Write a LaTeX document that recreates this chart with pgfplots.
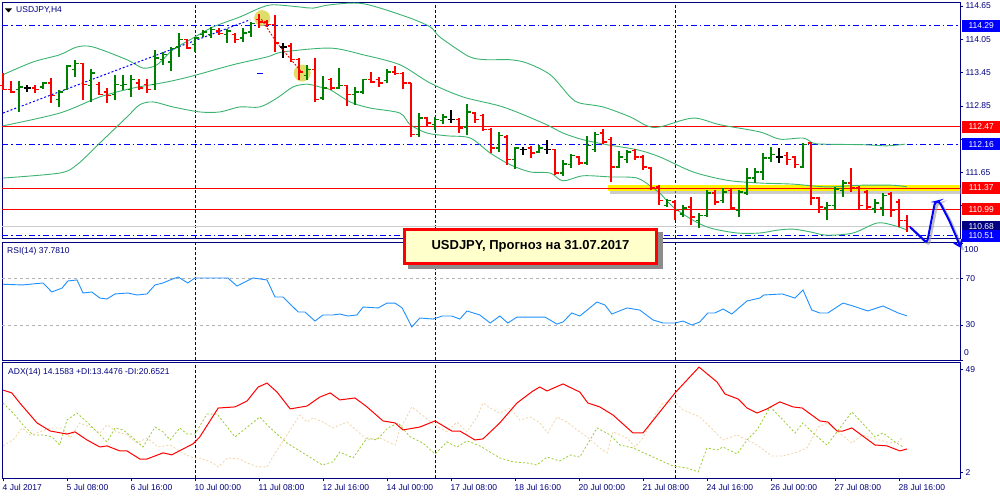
\documentclass[border=0pt]{standalone}
\usepackage{fontspec}
\setmainfont{Liberation Sans}
\usepackage{pgfplots}
\usepackage{pgfplotstable}
\pgfplotsset{compat=1.18}
\usetikzlibrary{arrows.meta}

\definecolor{navy}{HTML}{000080}
\definecolor{upG}{HTML}{008000}
\definecolor{dnR}{HTML}{FF0000}
\definecolor{bbG}{HTML}{3CB371}
\definecolor{rsiB}{HTML}{1E90FF}
\definecolor{diP}{HTML}{9ACD32}
\definecolor{diM}{HTML}{F2D3A6}
\definecolor{lnB}{HTML}{0000FF}
\definecolor{boxY}{HTML}{FFFFCC}
\definecolor{circY}{HTML}{DCD850}

\pgfdeclareplotmark{openL}{\pgfpathmoveto{\pgfqpoint{-3.5pt}{0pt}}\pgfpathlineto{\pgfqpoint{0pt}{0pt}}\pgfusepathqstroke}
\pgfdeclareplotmark{closeR}{\pgfpathmoveto{\pgfqpoint{0pt}{0pt}}\pgfpathlineto{\pgfqpoint{3.5pt}{0pt}}\pgfusepathqstroke}
\pgfdeclareplotmark{nothing}{}

\pgfplotstableread{
i O H L C
0 113.21 113.44 113.14 113.15
1 113.14 113.30 113.08 113.10
2 113.14 113.30 112.74 113.19
3 113.17 113.23 113.10 113.17
4 113.17 113.23 113.08 113.15
5 113.19 113.28 113.15 113.26
6 113.26 113.35 112.90 113.03
7 112.96 113.14 112.83 113.10
8 113.15 113.59 113.14 113.57
9 113.50 113.68 113.37 113.61
10 113.61 113.62 112.96 113.23
11 113.21 113.52 112.92 113.44
12 113.24 113.28 113.05 113.06
13 113.10 113.17 112.90 113.03
14 113.06 113.41 112.96 113.24
15 113.21 113.41 113.14 113.24
16 113.15 113.41 113.01 113.32
17 113.26 113.34 113.14 113.17
18 113.24 113.34 113.08 113.15
19 113.23 113.86 113.14 113.71
20 113.68 113.82 113.59 113.77
21 113.64 113.91 113.48 113.88
22 113.91 114.16 113.73 114.04
23 114.04 114.06 113.88 113.89
24 113.95 114.09 113.82 114.07
25 114.13 114.22 114.09 114.18
26 114.13 114.27 114.07 114.22
27 114.20 114.25 114.13 114.15
28 114.13 114.24 113.98 114.20
29 114.13 114.16 113.98 114.04
30 114.07 114.25 114.00 114.16
31 114.18 114.36 114.09 114.33
32 114.40 114.51 114.25 114.36
33 114.36 114.40 114.27 114.31
34 114.31 114.49 113.82 113.98
35 113.91 113.98 113.71 113.91
36 113.93 113.98 113.64 113.68
37 113.68 113.71 113.32 113.46
38 113.39 113.59 113.32 113.50
39 113.50 113.71 112.92 112.97
40 112.99 113.39 112.96 113.17
41 113.32 113.35 113.14 113.17
42 113.17 113.53 113.15 113.21
43 113.21 113.23 112.85 113.05
44 113.05 113.19 112.87 113.10
45 113.10 113.34 113.06 113.32
46 113.32 113.46 113.26 113.28
47 113.32 113.37 113.19 113.26
48 113.30 113.52 113.26 113.46
49 113.46 113.57 113.41 113.43
50 113.43 113.46 113.15 113.26
51 113.26 113.26 112.29 112.33
52 112.34 112.72 112.29 112.63
53 112.63 112.65 112.49 112.54
54 112.51 112.65 112.42 112.60
55 112.58 112.70 112.52 112.65
56 112.61 112.78 112.54 112.61
57 112.61 112.63 112.36 112.45
58 112.47 112.88 112.33 112.74
59 112.72 112.74 112.54 112.60
60 112.67 112.70 112.40 112.42
61 112.42 112.45 112.00 112.09
62 112.09 112.38 112.02 112.31
63 112.29 112.33 111.79 111.88
64 111.88 112.11 111.71 112.09
65 112.06 112.11 111.97 112.06
66 112.09 112.13 111.91 112.00
67 112.02 112.15 112.00 112.09
68 112.06 112.24 111.98 112.06
69 112.06 112.07 111.60 111.64
70 111.64 111.88 111.59 111.80
71 111.79 111.98 111.73 111.95
72 111.93 111.95 111.79 111.82
73 111.82 112.30 111.79 112.13
74 112.06 112.38 112.02 112.33
75 112.36 112.43 112.16 112.20
76 112.24 112.29 111.48 111.75
77 111.75 112.04 111.73 111.93
78 111.88 112.06 111.82 112.02
79 112.04 112.07 111.88 111.93
80 111.93 111.97 111.69 111.75
81 111.73 111.75 111.33 111.37
82 111.39 111.42 111.06 111.15
83 111.06 111.17 111.03 111.14
84 111.12 111.15 110.79 110.96
85 110.90 111.06 110.85 111.01
86 111.03 111.21 110.70 110.85
87 110.79 110.92 110.65 110.88
88 110.88 111.33 110.85 111.28
89 111.28 111.33 111.06 111.12
90 111.14 111.37 111.10 111.30
91 111.33 111.37 110.97 111.01
92 110.97 111.33 110.85 111.30
93 111.28 111.73 111.24 111.55
94 111.55 111.73 111.46 111.66
95 111.66 112.00 111.51 111.91
96 111.91 112.11 111.84 111.97
97 111.93 112.09 111.82 111.93
98 111.95 112.02 111.79 111.88
99 111.93 111.95 111.73 111.79
100 111.75 112.18 111.73 112.16
101 112.18 112.20 111.06 111.19
102 111.19 111.21 110.92 111.03
103 111.01 111.12 110.79 111.06
104 111.06 111.39 110.97 111.35
105 111.33 111.51 111.21 111.46
106 111.46 111.73 111.30 111.37
107 111.37 111.41 110.97 111.06
108 111.30 111.33 110.97 111.03
109 110.99 111.17 110.92 111.10
110 111.01 111.28 110.87 111.24
111 111.26 111.30 110.85 110.97
112 111.12 111.17 110.67 110.79
113 110.79 110.88 110.58 110.68
}\ohlc

\pgfplotsset{
  mt/.style={
    scale only axis, width=958pt, xmin=-0.125, xmax=119.625,
    anchor=north west, clip mode=individual,
    axis line style={navy, line width=0.8pt},
    tick style={navy, line width=0.6pt},
    ytick pos=right, yticklabel pos=right, tick align=outside,
    major tick length=3pt,
    tick label style={font=\fontsize{8.5}{10}\selectfont, text=navy},
    yticklabel style={anchor=west, xshift=-1pt},
  },
  hl/.style={only marks, mark=nothing, forget plot},
}
\tikzset{
  sep/.style={navy, line width=0.8pt, dash pattern=on 3pt off 2pt},
  plab/.style={anchor=west, minimum width=38pt, minimum height=11.5pt, inner sep=0pt,
    font=\fontsize{8.5}{10}\selectfont, text=white, xshift=2pt},
}

\begin{document}
\begin{tikzpicture}
\useasboundingbox (0,0) rectangle (1000pt,500pt);
\fill[white] (0,0) rectangle (1000pt,500pt);

% ---------------- main price panel ----------------
\begin{axis}[mt, at={(2pt,498pt)}, height=236pt, ymin=110.47, ymax=114.72,
  xtick=\empty,
  ytick={111.05,111.65,112.25,112.85,113.45,114.05,114.65},
  yticklabels={,111.65,,112.85,113.45,114.05,114.65}]

\draw[sep] (axis cs:24,110.47) -- (axis cs:24,114.72);
\draw[sep] (axis cs:54,110.47) -- (axis cs:54,114.72);
\draw[sep] (axis cs:84,110.47) -- (axis cs:84,114.72);

% horizontal levels
\draw[lnB, line width=1pt, dash pattern=on 6pt off 3pt on 1.5pt off 3pt] (axis cs:-0.125,114.29) -- (axis cs:119.625,114.29);
\draw[dnR, line width=1pt] (axis cs:-0.125,112.47) -- (axis cs:119.625,112.47);
\draw[lnB, line width=1pt, dash pattern=on 6pt off 3pt on 1.5pt off 3pt] (axis cs:-0.125,112.16) -- (axis cs:119.625,112.16);
\draw[black!40, line width=6pt, opacity=0.5] ([xshift=2pt,yshift=-3pt]axis cs:75.6,111.37) -- ([xshift=2pt,yshift=-3pt]axis cs:119.6,111.37);
\draw[yellow, line width=6.5pt] (axis cs:75.6,111.37) -- (axis cs:119.6,111.37);
\draw[dnR, line width=1pt] (axis cs:-0.125,111.37) -- (axis cs:119.625,111.37);
\draw[dnR, line width=1pt] (axis cs:-0.125,110.99) -- (axis cs:119.625,110.99);
\draw[black!20, line width=0.8pt] (axis cs:-0.125,110.68) -- (axis cs:119.625,110.68);
\draw[lnB, line width=1pt, dash pattern=on 6pt off 3pt on 1.5pt off 3pt] (axis cs:-0.125,110.51) -- (axis cs:119.625,110.51);

% Bollinger bands
\addplot[bbG, line width=0.9pt, smooth] coordinates {(0,113.41) (3.75,113.64) (7.1,113.77) (9.25,113.91) (11.25,113.91) (15.5,113.68) (17.5,113.53) (19.25,113.59) (21.25,113.86) (23.75,114.07) (26.25,114.27) (29.6,114.45) (32.1,114.61) (33.75,114.67) (37.1,114.63) (38.75,114.61) (40.9,114.67) (45,114.69) (50.5,114.45) (53.4,114.27) (54.6,114.09) (57.5,113.80) (58.75,113.71) (60.5,113.68) (63.4,113.68) (65.5,113.62) (68.4,113.41) (70.9,113.01) (72.1,112.90) (75,112.83) (78.4,112.65) (80.5,112.49) (82.1,112.47) (86.25,112.63) (89.6,112.51) (94.6,112.38) (97.1,112.25) (100,112.27) (101.25,112.18) (102.5,112.16) (107.5,112.15) (110.5,112.13) (112.75,112.16)};
\addplot[bbG, line width=0.9pt, smooth] coordinates {(0,112.49) (7.1,112.72) (12.1,113.01) (16.25,113.17) (20.5,113.28) (23.75,113.39) (28.75,113.59) (33,113.73) (35,113.82) (40.9,113.89) (45,113.77) (49.6,113.59) (53.4,113.26) (57.5,113.01) (62.5,112.83) (67.5,112.54) (70,112.36) (72.5,112.24) (75.5,112.15) (79.25,112.06) (82.1,111.93) (86.25,111.66) (90.5,111.51) (94.6,111.46) (98.75,111.44) (103,111.39) (107.1,111.42) (111.25,111.42) (113,111.39)};
\addplot[bbG, line width=0.9pt, smooth] coordinates {(0,111.55) (7.1,111.64) (9.25,111.79) (12.1,112.18) (15.5,112.65) (17.1,112.87) (18.75,112.92) (21.25,112.83) (24.6,112.74) (27.1,112.74) (29.6,112.83) (32.1,112.83) (34.25,112.99) (36.25,113.19) (38,113.24) (39.6,113.19) (40.9,113.14) (43.4,112.92) (45.9,112.81) (49.6,112.72) (50.9,112.51) (53,112.36) (55.5,112.31) (58.4,112.27) (60.9,112.00) (63.4,111.79) (65.9,111.66) (68.4,111.64) (70,111.50) (72.5,111.59) (75.9,111.57) (79.25,111.55) (81.25,111.37) (82.1,111.28) (83.75,111.03) (86.25,110.79) (88.4,110.65) (91.75,110.56) (94.6,110.56) (96.75,110.61) (98.75,110.63) (100.9,110.58) (103,110.52) (106.25,110.56) (109.25,110.74) (111.25,110.70) (113.1,110.61)};

% trend line
\addplot[lnB, line width=1pt, dash pattern=on 2pt off 2pt] coordinates {(0,112.72) (30.9,114.40)};

% circles
\fill[circY, opacity=0.85] (axis cs:32.4,114.43) circle[radius=8pt];
\fill[circY, opacity=0.85] (axis cs:37.4,113.44) circle[radius=8.5pt];

% OHLC bars: up
\addplot[hl, restrict expr to domain={\thisrow{C}-\thisrow{O}}{0.001:10},
  error bars/.cd, y dir=plus, y explicit, error mark=none, error bar style={line width=1.3pt, draw=upG}]
  table[x=i, y=L, y error expr=\thisrow{H}-\thisrow{L}] {\ohlc};
\addplot[forget plot, only marks, mark=openL, upG, line width=1.3pt, restrict expr to domain={\thisrow{C}-\thisrow{O}}{0.001:10}] table[x=i, y=O] {\ohlc};
\addplot[forget plot, only marks, mark=closeR, upG, line width=1.3pt, restrict expr to domain={\thisrow{C}-\thisrow{O}}{0.001:10}] table[x=i, y=C] {\ohlc};
% down
\addplot[hl, restrict expr to domain={\thisrow{C}-\thisrow{O}}{-10:-0.001},
  error bars/.cd, y dir=plus, y explicit, error mark=none, error bar style={line width=1.3pt, draw=dnR}]
  table[x=i, y=L, y error expr=\thisrow{H}-\thisrow{L}] {\ohlc};
\addplot[forget plot, only marks, mark=openL, dnR, line width=1.3pt, restrict expr to domain={\thisrow{C}-\thisrow{O}}{-10:-0.001}] table[x=i, y=O] {\ohlc};
\addplot[forget plot, only marks, mark=closeR, dnR, line width=1.3pt, restrict expr to domain={\thisrow{C}-\thisrow{O}}{-10:-0.001}] table[x=i, y=C] {\ohlc};
% doji
\addplot[hl, restrict expr to domain={\thisrow{C}-\thisrow{O}}{-0.0009:0.0009},
  error bars/.cd, y dir=plus, y explicit, error mark=none, error bar style={line width=1.3pt, draw=black}]
  table[x=i, y=L, y error expr=\thisrow{H}-\thisrow{L}] {\ohlc};
\addplot[forget plot, only marks, mark=openL, black, line width=1.3pt, restrict expr to domain={\thisrow{C}-\thisrow{O}}{-0.0009:0.0009}] table[x=i, y=O] {\ohlc};
\addplot[forget plot, only marks, mark=closeR, black, line width=1.3pt, restrict expr to domain={\thisrow{C}-\thisrow{O}}{-0.0009:0.0009}] table[x=i, y=C] {\ohlc};

% red dashed path and small marks
\draw[dnR, line width=0.9pt, dash pattern=on 2pt off 1.5pt] (axis cs:32.3,114.41) -- (axis cs:34.25,113.98) -- (axis cs:37.2,113.48);
\draw[lnB, line width=1pt] (axis cs:31.7,113.44) -- (axis cs:32.5,113.44);

% price labels
\node[plab, fill=lnB] at (axis cs:119.625,114.29) {114.29};
\node[plab, fill=dnR] at (axis cs:119.625,112.47) {112.47};
\node[plab, fill=lnB] at (axis cs:119.625,112.16) {112.16};
\node[plab, fill=dnR] at (axis cs:119.625,111.37) {111.37};
\node[plab, fill=dnR] at (axis cs:119.625,110.99) {110.99};
\node[plab, fill=navy] at (axis cs:119.625,110.68) {110.68};
\node[plab, fill=lnB] at (axis cs:119.625,110.51) {110.51};
\end{axis}

% ---------------- RSI panel ----------------
\begin{axis}[mt, at={(2pt,258pt)}, height=118.5pt, ymin=-0.4, ymax=101.1,
  xtick=\empty, ytick={0,30,70,100}, yticklabels={,30,70,}]
\draw[sep] (axis cs:24,-0.4) -- (axis cs:24,101.1);
\draw[sep] (axis cs:54,-0.4) -- (axis cs:54,101.1);
\draw[sep] (axis cs:84,-0.4) -- (axis cs:84,101.1);
\draw[black!30, line width=0.7pt, dash pattern=on 3pt off 3pt] (axis cs:-0.125,70) -- (axis cs:119.625,70);
\draw[black!30, line width=0.7pt, dash pattern=on 3pt off 3pt] (axis cs:-0.125,30) -- (axis cs:119.625,30);
\addplot[rsiB, line width=0.9pt] coordinates {(0,64.9) (2.4,64.3) (5,66.0) (6.1,58.3) (7.4,61.7) (8.1,67.7) (9.25,68.6) (10,57.4) (11.1,58.3) (12.1,53.1) (13,52.3) (14,56.6) (15.6,57.4) (16.75,55.7) (18,56.6) (19,64.3) (20,66.0) (20.9,68.6) (21.9,71.1) (23.1,66.0) (24,70.3) (26.25,70.3) (28.1,70.3) (29.25,63.4) (31.25,70.3) (33,68.6) (34,54.0) (35,54.0) (36.9,41.1) (37.75,41.1) (39,33.4) (40,38.6) (41.25,38.6) (42.1,39.4) (43.1,37.7) (44.25,38.6) (45,45.4) (46.9,44.6) (48,48.8) (49,48.8) (49.9,44.6) (51.1,28.3) (52.1,36.0) (53.75,35.1) (54.9,37.7) (56.1,37.7) (57.1,35.1) (58,42.0) (59.6,38.6) (60.9,31.7) (62.1,37.7) (63.1,31.7) (64.25,36.8) (67.75,36.8) (69.25,30.8) (70,32.6) (71.1,40.3) (72.1,37.7) (74.25,49.7) (75.25,47.1) (76.1,39.4) (78,44.6) (79.6,42.8) (81.25,34.3) (82.5,31.7) (84,31.7) (85,33.4) (86.1,30.0) (87.1,32.6) (88.1,40.3) (89,40.3) (90,43.7) (91.1,39.4) (93,50.6) (94.6,53.1) (95.1,55.7) (97.4,56.6) (99,53.1) (100,60.0) (101.1,42.8) (102.1,40.3) (103.1,40.3) (105,48.8) (106.25,46.3) (108.1,42.0) (110,46.3) (111.9,40.3) (113,37.8)};
\end{axis}

% ---------------- ADX panel ----------------
\begin{axis}[mt, at={(2pt,137.5pt)}, height=116pt, ymin=-0.8, ymax=52.2,
  ytick={2,49}, yticklabels={2,49}, xtick pos=left, major tick length=3pt,
  xtick={0,8,...,112},
  xticklabels={4 Jul 2017,5 Jul 08:00,6 Jul 16:00,10 Jul 00:00,11 Jul 08:00,12 Jul 16:00,14 Jul 00:00,17 Jul 08:00,18 Jul 16:00,20 Jul 00:00,21 Jul 08:00,24 Jul 16:00,26 Jul 00:00,27 Jul 08:00,28 Jul 16:00},
  xticklabel style={anchor=north west, xshift=-1.5pt, yshift=-1.5pt, inner sep=1pt}]
\draw[sep] (axis cs:24,-0.8) -- (axis cs:24,52.2);
\draw[sep] (axis cs:54,-0.8) -- (axis cs:54,52.2);
\draw[sep] (axis cs:84,-0.8) -- (axis cs:84,52.2);
\addplot[diM, line width=0.8pt, dash pattern=on 2pt off 2pt] coordinates {(0,14.1) (1.25,16.8) (2.4,22.3) (3.4,19.1) (4.6,20.5) (5.9,22.3) (7.4,22.3) (8.4,17.7) (9.6,24.6) (10.9,22.7) (12.1,20.0) (13,23.7) (14.25,20.5) (15.5,19.1) (16.75,15.4) (18,17.7) (19.4,13.6) (20.9,14.5) (22.4,10.9) (23.75,8.6) (24.6,8.6) (26.25,6.3) (26.9,4.5) (28.1,8.6) (29.6,8.1) (30.5,6.3) (31.9,4.5) (33,4.5) (34.25,12.2) (35.5,19.1) (37.1,28.2) (38,25.0) (38.75,26.9) (40,25.0) (41.25,22.3) (43,25.0) (44.4,20.5) (45.5,16.8) (47.1,17.7) (49,14.5) (49.6,21.4) (51.1,31.9) (52.1,29.1) (53.75,24.1) (55.5,20.5) (56.75,25.0) (58,20.5) (59.25,27.3) (60,33.7) (60.9,31.4) (62.1,29.1) (63.4,31.4) (64.6,25.9) (65.9,27.3) (67.1,24.6) (68.1,20.0) (69.25,27.3) (70.5,25.0) (71.75,21.4) (73,18.2) (74.6,13.2) (75.5,10.9) (76.25,20.5) (78,17.7) (79,13.6) (80,17.7) (81.5,28.2) (82.5,33.7) (84,34.2) (85,30.5) (87.1,27.3) (88.75,21.4) (90,16.8) (91.75,19.1) (93,16.8) (94.25,14.5) (96.1,9.5) (97.5,9.5) (99.25,11.3) (100.5,13.2) (101.9,22.7) (103.1,24.6) (104.4,20.5) (106.1,15.4) (107.4,19.1) (109,17.3) (110.5,15.9) (111.75,15.4) (112.5,18.2)};
\addplot[diP, line width=0.8pt, dash pattern=on 2pt off 2pt] coordinates {(0,33.7) (1.25,29.1) (2.5,23.7) (3.75,19.1) (5,19.1) (6.1,18.2) (7.1,14.5) (8,25.9) (9.25,29.1) (10.5,25.0) (11.75,20.5) (13,15.9) (14,22.3) (15,21.4) (16.25,17.7) (17.5,13.6) (19,22.7) (20,20.5) (20.9,16.8) (22.1,22.3) (23,19.5) (24,19.5) (25.5,28.7) (26.75,28.7) (29,18.2) (32.1,27.3) (33.4,22.3) (35.5,15.4) (37.1,11.8) (39.9,5.4) (41.25,6.8) (42.1,11.3) (43.75,8.6) (45.5,17.7) (46.75,16.8) (48.1,22.3) (49.4,24.6) (50.9,18.2) (52.5,15.4) (54,10.4) (55.5,15.9) (56.75,13.6) (58,16.4) (59.6,14.1) (62.1,8.6) (63.75,6.8) (65.5,6.3) (66.75,5.4) (68,9.0) (69.6,7.2) (70.9,9.9) (72.1,9.0) (73,14.5) (74.25,22.3) (75.9,19.1) (77.1,14.5) (78.75,13.2) (81.25,9.0) (83.75,4.9) (85.5,4.0) (86.9,2.2) (88,13.2) (89.25,12.2) (90,13.6) (91.75,10.4) (93,16.8) (94.25,21.4) (95.9,31.9) (97.5,25.9) (99,20.0) (100,24.6) (101.25,20.0) (103,14.5) (104.25,20.5) (106.1,29.6) (107.4,24.6) (109,18.2) (110,20.0) (111.5,15.9) (112.5,13.6)};
\addplot[dnR, line width=1pt] coordinates {(0,39.6) (1.1,38.3) (2.1,33.7) (4.25,24.6) (5.9,20.9) (8,19.5) (9,20.5) (10.5,16.8) (12.1,13.6) (13,14.1) (14.6,11.8) (15.5,11.8) (17.1,8.1) (18,8.1) (20,10.9) (21.1,10.0) (22.5,12.7) (23.75,15.0) (24.6,18.2) (26.9,31.4) (29,31.9) (30.5,34.6) (31.9,41.0) (33,42.8) (34.25,38.7) (35.9,31.0) (38,32.3) (39.6,36.4) (40.9,38.3) (42.1,35.1) (44,36.0) (45.5,31.9) (47.5,25.5) (49,24.6) (50,21.4) (52.1,22.7) (54,25.5) (56.1,20.9) (57.1,20.9) (59,16.8) (60,17.3) (62.1,24.6) (64.25,33.7) (66.25,39.2) (67.1,41.0) (68,39.2) (70,42.4) (72.1,38.7) (73.1,33.7) (74.6,31.9) (76.25,28.2) (78.75,20.0) (80,20.0) (84,38.3) (87,50.1) (89.25,43.3) (90.25,37.8) (91.9,35.5) (93,31.4) (94.25,29.1) (95.5,31.0) (97.1,34.2) (98.75,31.9) (99.9,31.4) (102.1,25.5) (103.1,25.0) (104.25,20.9) (105,20.9) (106.1,22.3) (109,14.5) (110.5,14.1) (112.1,11.8) (113,12.7)};
\end{axis}

% ---------------- texts outside axes ----------------
\fill[black] (5pt,491.5pt) -- (12pt,491.5pt) -- (8.5pt,487.5pt) -- cycle;
\node[anchor=west, inner sep=0pt, font=\fontsize{8.5}{10}\selectfont, text=navy] at (16pt,489.5pt) {USDJPY,H4};
\node[anchor=west, inner sep=0pt, font=\fontsize{8.5}{10}\selectfont, text=navy] at (7pt,249pt) {RSI(14) 37.7810};
\node[anchor=west, inner sep=0pt, font=\fontsize{8.5}{10}\selectfont, text=navy] at (8pt,128pt) {ADX(14) 14.1583 +DI:13.4476 -DI:20.6521};
\node[anchor=west, inner sep=0pt, font=\fontsize{8.5}{10}\selectfont, text=navy] at (964pt,250pt) {100};
\node[anchor=west, inner sep=0pt, font=\fontsize{8.5}{10}\selectfont, text=navy] at (964pt,147pt) {0};

% forecast box
\fill[black!45] (408pt,231pt) rectangle (663pt,268pt);
\filldraw[fill=boxY, draw=red, line width=2.6pt] (404.3pt,236.3pt) rectangle (656.7pt,270.7pt);
\node[font=\fontsize{13}{15}\selectfont\bfseries] at (530.5pt,253.5pt) {USDJPY, Прогноз на 31.07.2017};

% hand-drawn forecast arrow
\draw[black!40, opacity=0.6, line width=2.4pt, rounded corners=3pt, shift={(2pt,-2pt)}] (910pt,273pt) -- (927pt,257pt) -- (935pt,298pt) -- (939pt,299pt) -- (949pt,280pt) -- (961pt,252pt);
\draw[lnB, line width=2pt, rounded corners=3pt, -{Straight Barb[length=6pt,width=9pt]}] (910pt,273pt) -- (927pt,257pt) -- (935pt,298pt) -- (939pt,299pt) -- (949pt,280pt) -- (961pt,252pt);
\end{tikzpicture}
\end{document}
